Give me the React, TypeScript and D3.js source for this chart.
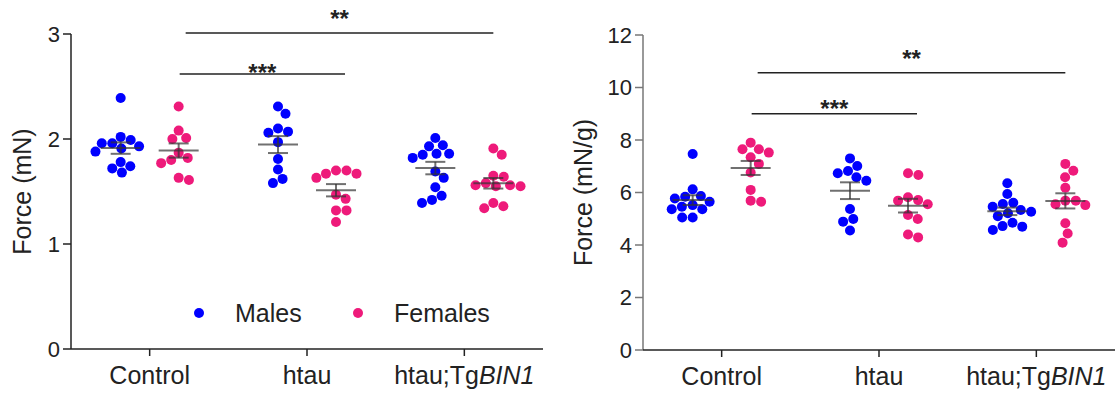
import React from "react";
import * as d3 from "d3";

const categories = ["Control", "htau", "htau;TgBIN1"];

// Left panel: Force (mN)
const leftMalesControl = [2.39, 2.02, 1.96, 1.99, 1.96, 1.93, 1.91, 1.88, 1.78, 1.74, 1.68, 1.72];
const leftFemalesControl = [2.31, 2.08, 2.0, 2.01, 1.87, 1.8, 1.77, 1.82, 1.61, 1.63];
const leftMalesHtau = [2.31, 2.24, 2.07, 2.06, 2.1, 1.97, 1.81, 1.71, 1.58, 1.62];
const leftFemalesHtau = [1.7, 1.67, 1.63, 1.67, 1.7, 1.47, 1.43, 1.32, 1.32, 1.21];
const leftMalesTg = [2.01, 1.93, 1.94, 1.86, 1.85, 1.86, 1.82, 1.69, 1.63, 1.54, 1.46, 1.39, 1.42];
const leftFemalesTg = [1.85, 1.91, 1.65, 1.64, 1.56, 1.55, 1.55, 1.56, 1.58, 1.39, 1.34, 1.36];

// Right panel: Force (mN/g)
const rightMalesControl = [7.47, 6.12, 5.87, 5.84, 5.77, 5.46, 5.36, 5.36, 5.05, 5.05, 5.65, 5.52];
const rightFemalesControl = [7.65, 7.9, 7.52, 7.65, 7.34, 7.09, 6.76, 6.1, 5.65, 5.69];
const rightMalesHtau = [7.3, 7.01, 6.82, 6.73, 6.45, 6.58, 5.37, 4.99, 4.89, 4.55];
const rightFemalesHtau = [6.73, 6.67, 5.82, 5.71, 5.55, 5.69, 5.14, 4.99, 4.29, 4.4];
const rightMalesTg = [6.35, 5.94, 5.61, 5.56, 5.46, 5.1, 5.33, 4.72, 4.57, 4.7, 4.85, 5.21, 5.27];
const rightFemalesTg = [7.09, 6.83, 6.58, 6.18, 5.69, 5.52, 5.55, 5.69, 4.83, 4.44, 4.09];

const leftTicks = [0, 1, 2, 3];
const rightTicks = [0, 2, 4, 6, 8, 10, 12];

const leftSig = [
  { from: 0, to: 1, level: 2.62, label: "***" },
  { from: 0, to: 2, level: 3.01, label: "**" },
];
const rightSig = [
  { from: 0, to: 1, level: 9.0, label: "***" },
  { from: 0, to: 2, level: 10.56, label: "**" },
];

const seriesNames = ["Males", "Females"];
const BLUE = "#0000ff";
const PINK = "#ee1a7a";
const FONT = "'Liberation Sans', Arial, Helvetica, sans-serif";

const R = 5;

function swarm(values: number[], y: (v: number) => number, r: number): number[] {
  const d = 2 * r * 1.05;
  const order = values.map((_, i) => i).sort((a, b) => y(values[a]) - y(values[b]));
  const placed: { x: number; y: number }[] = [];
  const out: number[] = new Array(values.length).fill(0);
  for (const i of order) {
    const py = y(values[i]);
    const cands = [0];
    for (const p of placed) {
      const dy = Math.abs(p.y - py);
      if (dy < d) {
        const dx = Math.sqrt(d * d - dy * dy);
        cands.push(p.x + dx, p.x - dx);
      }
    }
    cands.sort((a, b) => Math.abs(a) - Math.abs(b));
    let chosen = cands[0];
    for (const c of cands) {
      const ok = placed.every((p) => Math.hypot(p.x - c, p.y - py) >= d - 1e-6);
      if (ok) {
        chosen = c;
        break;
      }
    }
    placed.push({ x: chosen, y: py });
    out[i] = chosen;
  }
  return out;
}

function CatLabel({ text }: { text: string }) {
  if (text.includes("BIN1")) {
    const [pre] = text.split("BIN1");
    return (
      <>
        <tspan>{pre}</tspan>
        <tspan fontStyle="italic">BIN1</tspan>
      </>
    );
  }
  return <>{text}</>;
}

type PanelProps = {
  x0: number;
  x1: number;
  yTop: number;
  yBottom: number;
  domainMax: number;
  ticks: number[];
  males: number[][];
  females: number[][];
  sig: { from: number; to: number; level: number; label: string }[];
  sigOffsets: number[];
  yLabel: string;
  yLabelX: number;
  yAxisColor: string;
  legend?: boolean;
};

function Panel(p: PanelProps) {
  const y = d3.scaleLinear().domain([0, p.domainMax]).range([p.yBottom, p.yTop]);
  const x = d3.scalePoint<string>().domain(categories).range([p.x0, p.x1]).padding(0.5);
  const off = 29;
  const groups = [
    { data: p.males, color: BLUE, dx: -off },
    { data: p.females, color: PINK, dx: off },
  ];
  const xF = (i: number) => (x(categories[i]) as number) + off;
  return (
    <g fontFamily={FONT}>
      {groups.map((g, gi) =>
        g.data.map((vals, ci) => {
          const cx = (x(categories[ci]) as number) + g.dx;
          const offs = swarm(vals, y, R);
          return vals.map((v, k) => (
            <circle key={`${gi}-${ci}-${k}`} cx={cx + offs[k]} cy={y(v)} r={R} fill={g.color} />
          ));
        })
      )}
      {groups.map((g, gi) =>
        g.data.map((vals, ci) => {
          const cx = (x(categories[ci]) as number) + g.dx;
          const m = d3.mean(vals) as number;
          const sem = (d3.deviation(vals) as number) / Math.sqrt(vals.length);
          return (
            <g key={`e-${gi}-${ci}`} stroke="#333" strokeOpacity={0.7} strokeWidth={2}>
              <line x1={cx - 20} x2={cx + 20} y1={y(m)} y2={y(m)} />
              <line x1={cx} x2={cx} y1={y(m + sem)} y2={y(m - sem)} />
              <line x1={cx - 10} x2={cx + 10} y1={y(m + sem)} y2={y(m + sem)} />
              <line x1={cx - 10} x2={cx + 10} y1={y(m - sem)} y2={y(m - sem)} />
            </g>
          );
        })
      )}
      <line x1={p.x0} x2={p.x0} y1={y(p.domainMax)} y2={y(0)} stroke={p.yAxisColor} strokeWidth={1.5} />
      {p.ticks.map((t) => (
        <g key={`yt-${t}`}>
          <line x1={p.x0 - 8} x2={p.x0} y1={y(t)} y2={y(t)} stroke={p.yAxisColor} strokeWidth={1.5} />
          <text x={p.x0 - 11} y={y(t)} dy="0.35em" textAnchor="end" fontSize={22} fill="#222">
            {t}
          </text>
        </g>
      ))}
      <text
        transform={`translate(${p.yLabelX},${(p.yTop + p.yBottom) / 2}) rotate(-90)`}
        textAnchor="middle"
        dy="0.35em"
        fontSize={25}
        fill="#222"
      >
        {p.yLabel}
      </text>
      <line x1={p.x0} x2={p.x1} y1={y(0)} y2={y(0)} stroke="#222" strokeWidth={1.5} />
      {categories.map((c) => (
        <g key={`xt-${c}`}>
          <line x1={x(c)} x2={x(c)} y1={y(0)} y2={y(0) + 7} stroke="#222" strokeWidth={1.5} />
          <text x={x(c)} y={y(0) + 35} textAnchor="middle" fontSize={25} fill="#222">
            <CatLabel text={c} />
          </text>
        </g>
      ))}
      {p.sig.map((s, i) => {
        const isThree = s.label.length === 3;
        const xa = xF(s.from) + (isThree ? 1 : 7);
        const xb = xF(s.to) + (isThree ? 9 : 0);
        const ly = y(s.level);
        return (
          <g key={`sig-${i}`}>
            <line x1={xa} x2={xb} y1={ly} y2={ly} stroke="#222" strokeWidth={1.5} />
            <text
              x={(xa + xb) / 2}
              y={ly - p.sigOffsets[i] + 13}
              textAnchor="middle"
              fontSize={24}
              fontWeight="bold"
              fill="#222"
            >
              {s.label}
            </text>
          </g>
        );
      })}
      {p.legend && (
        <g>
          <circle cx={199} cy={313} r={5} fill={BLUE} />
          <text x={235} y={322} fontSize={25} fill="#222">
            {seriesNames[0]}
          </text>
          <circle cx={358} cy={313} r={5} fill={PINK} />
          <text x={394} y={322} fontSize={25} fill="#222">
            {seriesNames[1]}
          </text>
        </g>
      )}
    </g>
  );
}

export default function App() {
  return (
    <svg
      width={1115}
      height={394}
      style={{ position: "absolute", left: 0, top: 0, background: "#fff" }}
    >
      <rect width={1115} height={394} fill="#fff" />
      <Panel
        x0={71}
        x1={543}
        yTop={34}
        yBottom={349}
        domainMax={3}
        ticks={leftTicks}
        males={[leftMalesControl, leftMalesHtau, leftMalesTg]}
        females={[leftFemalesControl, leftFemalesHtau, leftFemalesTg]}
        sig={leftSig}
        sigOffsets={[6, 19]}
        yLabel="Force (mN)"
        yLabelX={22}
        yAxisColor="#222"
        legend
      />
      <Panel
        x0={643}
        x1={1115}
        yTop={35}
        yBottom={350}
        domainMax={12}
        ticks={rightTicks}
        males={[rightMalesControl, rightMalesHtau, rightMalesTg]}
        females={[rightFemalesControl, rightFemalesHtau, rightFemalesTg]}
        sig={rightSig}
        sigOffsets={[10, 19]}
        yLabel="Force (mN/g)"
        yLabelX={583}
        yAxisColor="#777"
      />
    </svg>
  );
}
